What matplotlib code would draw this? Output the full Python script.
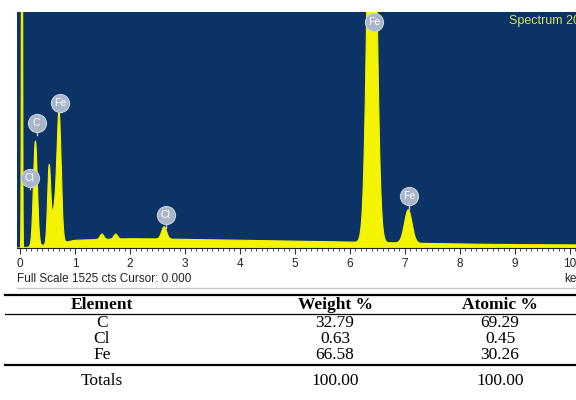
import numpy as np
import matplotlib
matplotlib.use("Agg")
import matplotlib.pyplot as plt
from matplotlib.lines import Line2D
from matplotlib.ticker import MultipleLocator

# EDS spectrum: peak positions (keV), heights (counts above continuum) and widths (sigma, keV)
peak_kev = [0.036, 0.28, 0.53, 0.62, 0.71, 1.49, 1.74, 2.62, 6.40, 7.06]
peak_cts = [5000, 680, 500, 200, 840, 35, 32, 80, 3400, 215]
peak_sig = [0.008, 0.035, 0.028, 0.04, 0.038, 0.035, 0.035, 0.045, 0.075, 0.068]

# continuum level read at a few energies
bg_kev = [0.0, 0.15, 0.8, 1.0, 2.0, 3.0, 4.0, 5.0, 6.0, 7.0, 8.0, 9.0, 10.2]
bg_cts = [0, 5, 35, 50, 60, 56, 50, 44, 38, 32, 26, 22, 20]

# element markers on the spectrum
badge_el = ["Cl", "C", "Fe", "Cl", "Fe", "Fe"]
badge_kev = [0.18, 0.30, 0.73, 2.65, 6.44, 7.08]
badge_cts = [452, 808, 937, 213, 1460, 336]
stem_cts = [380, 730, 880, 130, 1460, 250]

full_scale = 1525

# quantification table
elements = ["C", "Cl", "Fe"]
weight_pct = [32.79, 0.63, 66.58]
atomic_pct = [69.29, 0.45, 30.26]
weight_total = 100.00
atomic_total = 100.00

W, H = 576, 400
fig = plt.figure(figsize=(W / 100, H / 100), dpi=100)
fig.patch.set_facecolor("white")


def fx(px):
    return px / W


def fy(py):
    return 1 - py / H


ax = fig.add_axes([fx(17), fy(248), fx(559), 236 / H])
ax.set_facecolor("#0b3366")

energy = np.arange(-0.06, 10.2, 0.004)
counts = np.interp(energy, bg_kev, bg_cts)
for e0, h, s in zip(peak_kev, peak_cts, peak_sig):
    counts = counts + h * np.exp(-0.5 * ((energy - e0) / s) ** 2)

yellow = "#f4f400"
ax.fill_between(energy, 0, counts, color=yellow, lw=0)
ax.plot(energy, counts, color=yellow, lw=0.8)

for el, e, c, sc in zip(badge_el, badge_kev, badge_cts, stem_cts):
    ax.plot([e, e], [c, sc], color="#c4cedb", lw=1, zorder=4)
    ax.scatter([e], [c], s=170, color="#a9b6c9", edgecolor="#c9d2de",
               lw=0.8, zorder=5, clip_on=False)
    ax.text(e, c, el, color="white", fontsize=7.5, ha="center", va="center",
            family="Liberation Sans", zorder=6)

ax.set_xlim(-0.055, 10.11)
ax.set_ylim(0, full_scale)
ax.set_yticks([])
ax.set_xticks(range(11))
ax.xaxis.set_minor_locator(MultipleLocator(0.1))
ax.tick_params(axis="x", which="major", direction="out", length=4, width=0.8,
               color="#333333", labelsize=8.5, labelcolor="#222222", pad=3)
ax.tick_params(axis="x", which="minor", direction="out", length=2.5, width=0.6,
               color="#333333")
for lab in ax.get_xticklabels():
    lab.set_family("Liberation Sans")
for side in ["top", "left", "right"]:
    ax.spines[side].set_visible(False)
ax.spines["bottom"].set_color("#222222")
ax.spines["bottom"].set_linewidth(0.8)

fig.text(fx(509), fy(21), "Spectrum 20", color="#d2e35a", fontsize=9,
         family="Liberation Sans", va="center")
fig.text(fx(17), fy(279), "Full Scale %d cts Cursor: 0.000" % full_scale,
         color="#222222", fontsize=8.5, family="Liberation Sans", va="center")
fig.text(fx(564), fy(279), "keV", color="#222222", fontsize=8.5,
         family="Liberation Sans", va="center")
fig.add_artist(Line2D([fx(17), 1], [fy(288), fy(288)], color="#c8c8c8", lw=1))

# table
serif = "Liberation Serif"
col_x = [fx(102), fx(335), fx(500)]
fsize = 12.5


def hline(py, lw):
    fig.add_artist(Line2D([fx(5), 1], [fy(py), fy(py)], color="black", lw=lw))


hline(294.5, 1.6)
headers = ["Element", "Weight %", "Atomic %"]
for x, t in zip(col_x, headers):
    fig.text(x, fy(305), t, ha="center", va="center", fontsize=fsize,
             family=serif, weight="bold")
hline(314, 0.9)
row_y = [323, 339, 355]
for y, el, w, a in zip(row_y, elements, weight_pct, atomic_pct):
    for x, t in zip(col_x, [el, "%.2f" % w, "%.2f" % a]):
        fig.text(x, fy(y), t, ha="center", va="center", fontsize=fsize,
                 family=serif)
hline(365, 1.6)
for x, t in zip(col_x, ["Totals", "%.2f" % weight_total, "%.2f" % atomic_total]):
    fig.text(x, fy(381), t, ha="center", va="center", fontsize=fsize,
             family=serif)

fig.savefig("out.png", dpi=100)
